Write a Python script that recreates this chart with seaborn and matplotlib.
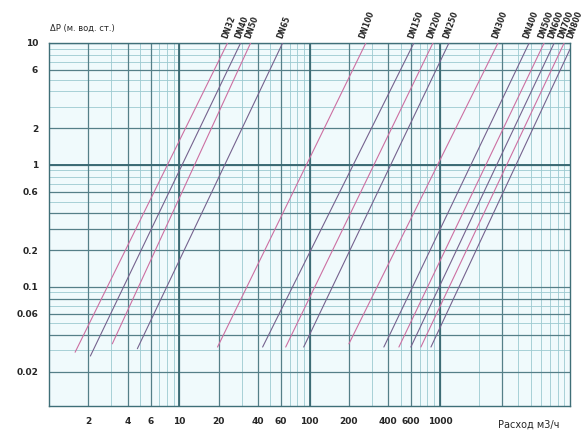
import numpy as np
import pandas as pd
import matplotlib
matplotlib.use("Agg")
import matplotlib.pyplot as plt
import matplotlib.ticker as mticker
import seaborn as sns

# Данные
line_labels = ["DN32", "DN40", "DN50", "DN65", "DN100", "DN150", "DN200",
               "DN250", "DN300", "DN400", "DN500", "DN600", "DN700", "DN800"]
q_top = [23.4, 29.5, 35.2, 62, 270, 631, 884, 1173, 2793, 4840, 6310, 7540, 8990, 10500]
q_low = [1.58, 2.07, 3.05, 4.75, 19.6, 43.5, 65.4, 89.9, 200, 371, 484, 598, 714, 853]
dp_top = [10] * 14
dp_low = [0.029, 0.027, 0.034, 0.031, 0.032, 0.032, 0.032, 0.032, 0.034, 0.032,
          0.032, 0.032, 0.032, 0.032]

x_ticks = [2, 4, 6, 10, 20, 40, 60, 100, 200, 400, 600, 1000]
y_ticks = [0.02, 0.06, 0.1, 0.2, 0.6, 1, 2, 6, 10]

rows = []
for name, q1, q2, d1, d2 in zip(line_labels, q_low, q_top, dp_low, dp_top):
    rows.append({"line": name, "q": q1, "dp": d1})
    rows.append({"line": name, "q": q2, "dp": d2})
df = pd.DataFrame(rows)

sns.set_style("white")
plt.rcParams['font.family'] = ['DejaVu Sans']

fig = plt.figure(figsize=(5.86, 4.38), dpi=100)
ax = fig.add_axes([0.084, 0.073, 0.889, 0.829])
ax.set_facecolor("#f0fafc")

palette = ["#cc6fa2" if i % 2 == 0 else "#75628e" for i in range(len(line_labels))]
sns.lineplot(data=df, x="q", y="dp", hue="line", palette=palette,
             linewidth=0.8, legend=False, ax=ax, zorder=3)

ax.set_xscale("log")
ax.set_yscale("log")
ax.set_xlim(1, 10000)
ax.set_ylim(0.0105, 10)

# сетка: светлая для всех делений, темнее для подписанных, толще для декад
ax.xaxis.set_minor_locator(mticker.LogLocator(base=10, subs=np.arange(2, 10)))
ax.yaxis.set_minor_locator(mticker.LogLocator(base=10, subs=np.arange(2, 10)))
ax.grid(which="minor", color="#9cc9d0", linewidth=0.6, zorder=1)
ax.grid(which="major", color="#9cc9d0", linewidth=0.6, zorder=1)
for v in x_ticks + [3000]:
    ax.axvline(v, color="#557f88", linewidth=0.9, zorder=2)
for v in y_ticks + [0.08, 0.3, 0.4, 0.04]:
    ax.axhline(v, color="#557f88", linewidth=0.9, zorder=2)
for v in [10, 100, 1000]:
    ax.axvline(v, color="#3b6a74", linewidth=1.3, zorder=2)
ax.axhline(1, color="#3b6a74", linewidth=1.4, zorder=2)

ax.set_xticks(x_ticks)
ax.set_xticklabels([str(v) for v in x_ticks], fontsize=6.5, fontweight="bold")
ax.set_yticks(y_ticks)
ax.set_yticklabels([f"{v:g}" for v in y_ticks], fontsize=6.5, fontweight="bold")
ax.xaxis.set_minor_formatter(mticker.NullFormatter())
ax.yaxis.set_minor_formatter(mticker.NullFormatter())
ax.tick_params(which="both", length=0, pad=8)

for s in ax.spines.values():
    s.set_color("#3f6f78")
    s.set_linewidth(1.0)

ax.set_xlabel("")
ax.set_ylabel("")

# подписи линий сверху
for name, q in zip(line_labels, q_top):
    ax.annotate(name, xy=(q, 1.0), xycoords=("data", "axes fraction"),
                xytext=(1, 2), textcoords="offset points",
                rotation=70, ha="center", va="bottom",
                fontsize=5.5, fontweight="bold", annotation_clip=False)

fig.text(0.085, 0.925, "ΔP (м. вод. ст.)", fontsize=6, ha="left", va="bottom")
fig.text(0.955, 0.018, "Расход м3/ч", fontsize=7, ha="right", va="bottom")

fig.savefig("out.png", dpi=100)
